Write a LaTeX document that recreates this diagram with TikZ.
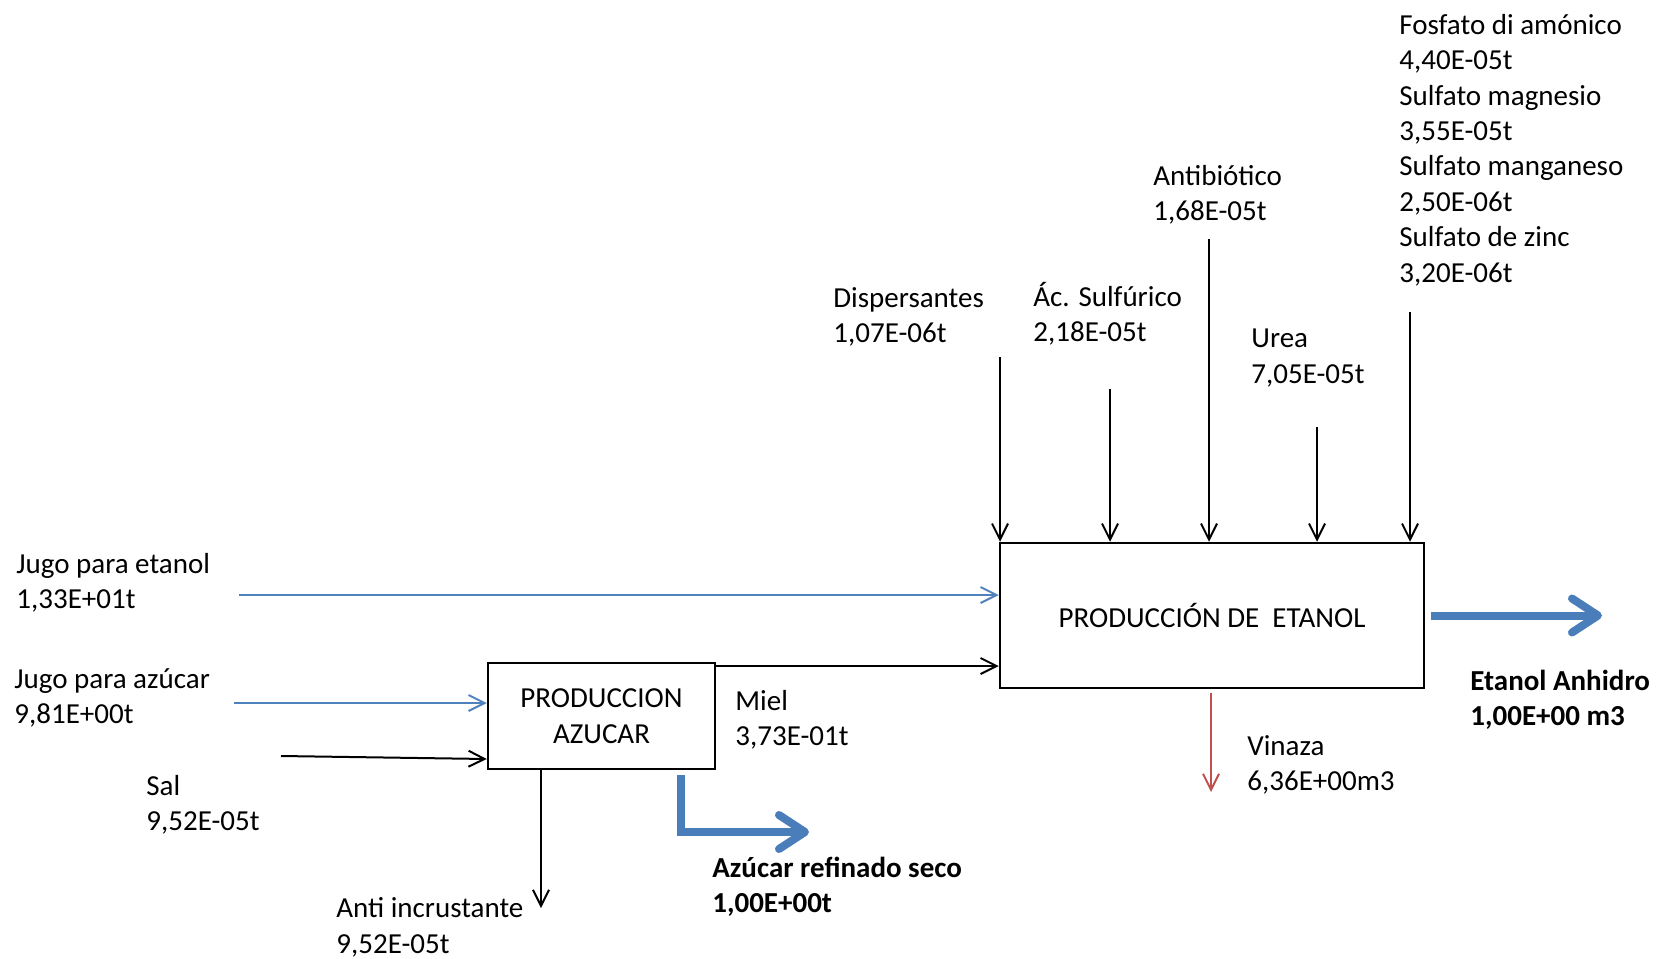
\documentclass[tikz,border=0pt]{standalone}
\usepackage{fontspec}
\setmainfont{Carlito}
\usetikzlibrary{arrows.meta}
\definecolor{flowblue}{HTML}{4F81BD}
\definecolor{prodblue}{HTML}{4A7EBB}
\definecolor{wastered}{HTML}{C0504D}
\begin{document}
\begin{tikzpicture}[x=0.5pt,y=-0.5pt,
  every node/.style={font=\fontsize{14.5}{17.7}\selectfont},
  lbl/.style={anchor=west,align=left,inner sep=0pt,yshift=-1pt},
  blbl/.style={lbl,font=\fontsize{14.5}{17.7}\selectfont\bfseries},
  procbox/.style={draw,line width=1.25pt,inner sep=0pt,align=center},
  thinflow/.style={line width=1pt,-{Straight Barb[length=8pt,width=8pt]}},
  blueflow/.style={thinflow,draw=flowblue},
  redflow/.style={thinflow,draw=wastered},
  product/.style={draw=prodblue,line width=4pt,-{Straight Barb[length=13pt,width=17pt,round]}}]
\useasboundingbox (0,0) rectangle (1656,959);

% process blocks
\node[procbox,minimum width=113.5pt,minimum height=53pt] (azucar) at (601.5,716) {PRODUCCION\\AZUCAR};
\node[procbox,minimum width=212pt,minimum height=72.5pt] (etanol) at (1212,615.5) {PRODUCCIÓN DE\ \ ETANOL};

% labels
\node[lbl] (ljet) at (16,581) {Jugo para etanol\\1,33E+01t};
\node[lbl] (ljaz) at (14,696) {Jugo para azúcar\\9,81E+00t};
\node[lbl] (lsal) at (146,803) {Sal\\9,52E-05t};
\node[lbl] (lanti) at (336,925.5) {Anti incrustante\\9,52E-05t};
\node[blbl] (lazref) at (712,885) {Azúcar refinado seco\\1,00E+00t};
\node[lbl] (lmiel) at (735,718) {Miel\\3,73E-01t};
\node[lbl] (ldisp) at (833,315) {Dispersantes\\1,07E-06t};
\node[lbl] (lacid) at (1033,312) {Ác. Sulfúrico\\2,18E-05t};
\node[lbl] (lanb) at (1153,193) {Antibiótico\\1,68E-05t};
\node[lbl] (lurea) at (1251,356) {Urea\\7,05E-05t};
\node[lbl] (lsales) at (1399,148) {Fosfato di amónico\\4,40E-05t\\Sulfato magnesio\\3,55E-05t\\Sulfato manganeso\\2,50E-06t\\Sulfato de zinc\\3,20E-06t};
\node[lbl] (lvin) at (1247,763) {Vinaza\\6,36E+00m3};
\node[blbl] (leta) at (1470,698) {Etanol Anhidro\\1,00E+00 m3};

% free ends of the flows
\coordinate (jetS) at (239,595);
\coordinate (jazS) at (234,703);
\coordinate (salS) at (281,756);
\coordinate (salE) at (488,759);
\coordinate (antiE) at (541,908);
\coordinate (azS) at (681,775);
\coordinate (azE) at (809,832);
\coordinate (mielS) at (715,666);
\coordinate (dispS) at (1000,357);
\coordinate (acidS) at (1110,389);
\coordinate (anbS) at (1209,239);
\coordinate (ureaS) at (1317,427);
\coordinate (salesS) at (1410,312);
\coordinate (vinE) at (1211,792);
\coordinate (etaE) at (1602,615.5);

% inputs to sugar production
\draw[blueflow] (jazS) -- (jazS -| azucar.west);
\draw[thinflow] (salS) -- (salE -| azucar.west);
% outputs of sugar production
\draw[thinflow] (antiE |- azucar.south) -- (antiE);
\draw[product] (azS) |- (azE);
\draw[thinflow] (mielS) -- (mielS -| etanol.west);

% inputs to ethanol production
\draw[blueflow] (jetS) -- (jetS -| etanol.west);
\draw[thinflow] (dispS) -- (dispS |- etanol.north);
\draw[thinflow] (acidS) -- (acidS |- etanol.north);
\draw[thinflow] (anbS) -- (anbS |- etanol.north);
\draw[thinflow] (ureaS) -- (ureaS |- etanol.north);
\draw[thinflow] (salesS) -- (salesS |- etanol.north);
% outputs of ethanol production
\draw[redflow] ([yshift=-2pt]etanol.south -| vinE) -- (vinE);
\draw[product] ([xshift=3pt]etanol.east) -- (etaE);
\end{tikzpicture}
\end{document}
